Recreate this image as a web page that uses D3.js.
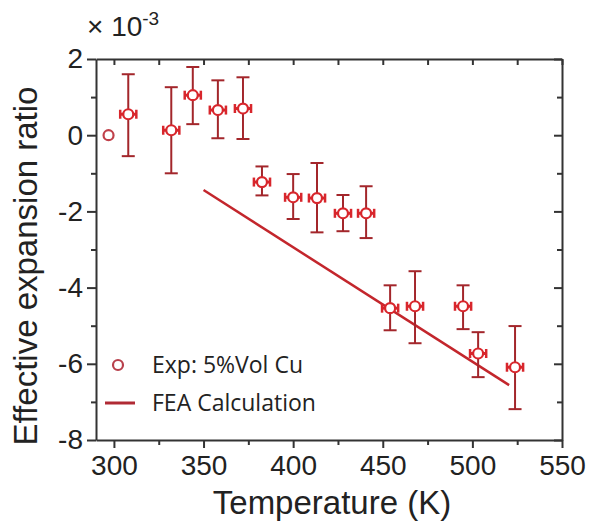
<!DOCTYPE html>
<html>
<head>
<meta charset="utf-8">
<script src="https://cdn.jsdelivr.net/npm/d3@7"></script>
<style>
  body { margin: 0; background: #fff; }
  svg text { font-family: "Liberation Sans", Arial, sans-serif; fill: #222; }
  .legend-text { font-family: "Open Sans", "Liberation Sans", sans-serif; }
</style>
</head>
<body>
<div id="chart"></div>
<script>
// Data (strain values in units of 1e-3)
const temps = [297, 308, 332, 344, 358, 372, 382.6, 400, 413.3, 427.8, 440.7, 454.1, 468, 494.8, 503.2, 523.8];
const ratio = [0, 0.55, 0.13, 1.05, 0.66, 0.7, -1.23, -1.63, -1.65, -2.05, -2.05, -4.54, -4.49, -4.49, -5.73, -6.09];
const upper = [null, 1.6, 1.26, 1.79, 1.44, 1.52, -0.82, -1.02, -0.73, -1.57, -1.34, -3.94, -3.57, -3.94, -5.17, -5.01];
const lower = [null, -0.55, -1.0, 0.29, -0.08, -0.1, -1.58, -2.2, -2.55, -2.52, -2.7, -5.12, -5.46, -5.09, -6.35, -7.19];
const tempErr = 4.5;

const feaTemps = [350, 520.5];
const feaRatio = [-1.44, -6.56];

const xTicks = [300, 350, 400, 450, 500, 550];
const xMinor = [325, 375, 425, 475, 525];
const yTicks = [2, 0, -2, -4, -6, -8];
const yMinor = [1, -1, -3, -5, -7];

const legendLabels = ["Exp: 5%Vol Cu", "FEA Calculation"];

// Sizes
const WIDTH = 590, HEIGHT = 523;
const margin = { top: 59, right: 28, bottom: 83, left: 96 };
const innerW = WIDTH - margin.left - margin.right;
const innerH = HEIGHT - margin.top - margin.bottom;

const RED = "#d8262c";
const DARK = "#a3262b";

const svg = d3.select("#chart").append("svg")
  .attr("width", WIDTH).attr("height", HEIGHT);

const g = svg.append("g").attr("transform", `translate(${margin.left},${margin.top})`);

const x = d3.scaleLinear().domain([290, 550]).range([0, innerW]);
const y = d3.scaleLinear().domain([-8, 2]).range([innerH, 0]);

// Axes
const axStroke = (sel) => {
  sel.select(".domain").attr("stroke", "#333").attr("stroke-width", 2);
  sel.selectAll(".tick line").attr("stroke", "#333").attr("stroke-width", 2);
};

// bottom
g.append("g").attr("transform", `translate(0,${innerH})`)
  .call(d3.axisBottom(x).tickValues(xTicks).tickSize(8).tickSizeOuter(0).tickPadding(7))
  .call(axStroke)
  .call(s => s.selectAll("text").attr("font-size", 28).attr("fill", "#222"));
g.append("g").attr("transform", `translate(0,${innerH})`)
  .call(d3.axisBottom(x).tickValues(xMinor).tickSize(5).tickFormat(""))
  .call(axStroke).call(s => s.select(".domain").remove());

// left
g.append("g")
  .call(d3.axisLeft(y).tickValues(yTicks).tickSize(9).tickSizeOuter(0).tickPadding(4)
    .tickFormat(d => d3.format("d")(d).replace("−", "-")))
  .call(axStroke)
  .call(s => s.selectAll("text").attr("font-size", 28).attr("fill", "#222"));
g.append("g")
  .call(d3.axisLeft(y).tickValues(yMinor).tickSize(5).tickFormat(""))
  .call(axStroke).call(s => s.select(".domain").remove());

// top (ticks inward)
g.append("g")
  .call(d3.axisBottom(x).tickValues(xTicks.concat(xMinor)).tickSize(6).tickSizeOuter(0).tickFormat(""))
  .call(axStroke);

// right (ticks inward)
g.append("g").attr("transform", `translate(${innerW},0)`)
  .call(d3.axisLeft(y).tickValues(yTicks).tickSize(8).tickSizeOuter(0).tickFormat(""))
  .call(axStroke);
g.append("g").attr("transform", `translate(${innerW},0)`)
  .call(d3.axisLeft(y).tickValues(yMinor).tickSize(5).tickFormat(""))
  .call(axStroke).call(s => s.select(".domain").remove());

// axis titles
svg.append("text")
  .attr("x", 332).attr("y", 514)
  .attr("text-anchor", "middle").attr("font-size", 33)
  .text("Temperature (K)");

svg.append("text")
  .attr("transform", "translate(37,266) rotate(-90)")
  .attr("text-anchor", "middle").attr("font-size", 33)
  .text("Effective expansion ratio");

// multiplier
const mult = svg.append("text").attr("x", 87).attr("y", 36).attr("font-size", 28);
mult.append("tspan").text("× 10");
mult.append("tspan").attr("dy", -11).attr("font-size", 19).text("-3");

// FEA line
const feaLine = d3.line().x(d => x(d[0])).y(d => y(d[1]));
g.append("path")
  .datum(d3.zip(feaTemps, feaRatio))
  .attr("d", feaLine)
  .attr("fill", "none").attr("stroke", "#c3262c").attr("stroke-width", 2.5);

// Points with error bars
const pts = temps.map((t, i) => ({ t, v: ratio[i], hi: upper[i], lo: lower[i] }));
const withErr = pts.filter(d => d.hi !== null);

const eb = g.append("g").attr("stroke", DARK).attr("stroke-width", 2).attr("fill", "none");
const CAP = 6.5;
withErr.forEach(d => {
  const cx = x(d.t);
  eb.append("line").attr("x1", cx).attr("x2", cx).attr("y1", y(d.hi)).attr("y2", y(d.lo));
  eb.append("line").attr("x1", cx - CAP).attr("x2", cx + CAP).attr("y1", y(d.hi)).attr("y2", y(d.hi));
  eb.append("line").attr("x1", cx - CAP).attr("x2", cx + CAP).attr("y1", y(d.lo)).attr("y2", y(d.lo));
  // horizontal error
  const xl = x(d.t - tempErr), xr = x(d.t + tempErr), cy = y(d.v);
  eb.append("line").attr("x1", xl).attr("x2", xr).attr("y1", cy).attr("y2", cy).attr("stroke", RED).attr("stroke-width", 3);
  eb.append("line").attr("x1", xl).attr("x2", xl).attr("y1", cy - 4.5).attr("y2", cy + 4.5).attr("stroke", RED).attr("stroke-width", 2.5);
  eb.append("line").attr("x1", xr).attr("x2", xr).attr("y1", cy - 4.5).attr("y2", cy + 4.5).attr("stroke", RED).attr("stroke-width", 2.5);
});

g.selectAll("circle.pt")
  .data(pts)
  .enter()
  .append("circle")
  .attr("class", "pt")
  .attr("cx", d => x(d.t))
  .attr("cy", d => y(d.v))
  .attr("r", 5)
  .attr("fill", "#fff")
  .attr("stroke", (d, i) => i === 0 ? "#c0404a" : RED)
  .attr("stroke-width", 2.2);

// Legend
const leg = svg.append("g");
leg.append("circle").attr("cx", 118).attr("cy", 365).attr("r", 5)
  .attr("fill", "#fff").attr("stroke", "#b8404c").attr("stroke-width", 2.2);
leg.append("line").attr("x1", 105).attr("x2", 135).attr("y1", 403).attr("y2", 403)
  .attr("stroke", "#b02a34").attr("stroke-width", 3);
leg.selectAll("text.legend-text")
  .data(legendLabels)
  .enter()
  .append("text")
  .attr("class", "legend-text")
  .attr("x", 152)
  .attr("y", (d, i) => 373 + i * 38)
  .attr("font-size", 23)
  .attr("fill", "#1a1a1a")
  .text(d => d);
</script>
</body>
</html>
